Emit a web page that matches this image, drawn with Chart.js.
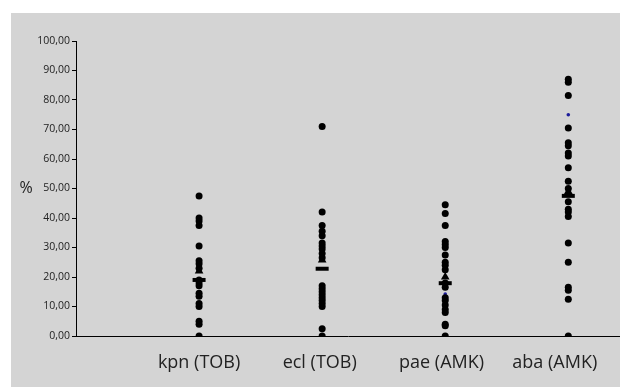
<!DOCTYPE html>
<html>
<head>
<meta charset="utf-8">
<script src="https://cdn.jsdelivr.net/npm/chart.js@4/dist/chart.umd.min.js"></script>
<style>
  html, body { margin: 0; padding: 0; background: #ffffff; }
  #wrap { position: absolute; left: 11px; top: 13px; width: 609px; height: 374px; background: #d4d4d4; }
  canvas { display: block; }
</style>
</head>
<body>
<div id="wrap"><canvas id="chart" width="609" height="374"></canvas></div>
<script>
// Categories (x positions 1..4)
const categories = ['kpn (TOB)', 'ecl (TOB)', 'pae (AMK)', 'aba (AMK)'];
// Where each category label sits on the x scale (slightly off the data columns)
const labelPositions = [1, 1.98, 2.97, 3.89];

// Individual isolate values (%)
const kpnValues = [47.5, 40, 39, 37.5, 30.5, 25.5, 24.5, 23, 19, 18, 17, 14.5, 13.5, 11, 10, 5, 4, 0];
const eclValues = [71, 42, 37.5, 35.5, 34, 31.5, 30.5, 29.5, 28, 26.5, 17, 16, 15, 14, 13, 12, 11, 10, 2.5, 0];
const paeValues = [44.5, 41.5, 37.5, 32, 31, 30, 27.5, 25, 24, 22.5, 18, 16.5, 13, 12, 10.5, 9, 8, 4, 3.5, 0];
const abaValues = [87, 86, 81.5, 70.5, 65.5, 64.5, 62, 61, 57, 52.5, 50, 45.5, 43, 42, 40.5, 31.5, 25, 16.5, 15.5, 12.5, 0];

// Summary markers
const barValues = [19, 22.8, 17.9, 47.5];      // horizontal bar
const triangleValues = [22, 25.8, 20, 49];     // triangle
const blueValues = [null, null, 14.2, 75];     // small blue marks

// Y axis ticks
const yMin = 0;
const yMax = 100;
const yStep = 10;

function toPoints(values, idx) {
    return values.map(v => ({ x: idx + 1, y: v }));
}

const dotPoints = [kpnValues, eclValues, paeValues, abaValues]
    .flatMap((vals, i) => toPoints(vals, i));

const barPoints = barValues.map((v, i) => ({ x: i + 1, y: v }));
const trianglePoints = triangleValues.map((v, i) => ({ x: i + 1, y: v }));
const bluePoints = blueValues
    .map((v, i) => (v === null ? null : { x: i + 1, y: v }))
    .filter(p => p !== null);

// Draws the "%" label beside the y axis
const percentLabel = {
    id: 'percentLabel',
    afterDraw(chart) {
        const ctx = chart.ctx;
        ctx.save();
        ctx.font = '16px "Open Sans"';
        ctx.fillStyle = '#222';
        ctx.textAlign = 'center';
        ctx.textBaseline = 'middle';
        ctx.fillText('%', 15, 175);
        ctx.restore();
    }
};

new Chart(document.getElementById('chart').getContext('2d'), {
    type: 'scatter',
    data: {
        datasets: [
            {
                label: 'values',
                data: dotPoints,
                pointStyle: 'circle',
                pointRadius: 3.5,
                backgroundColor: '#000',
                borderColor: '#000',
                borderWidth: 0
            },
            {
                label: 'triangle',
                data: trianglePoints,
                pointStyle: 'triangle',
                pointRadius: 5,
                backgroundColor: '#000',
                borderColor: '#000',
                borderWidth: 0
            },
            {
                label: 'bar',
                data: barPoints,
                pointStyle: 'line',
                pointRadius: 6.5,
                borderColor: '#000',
                borderWidth: 4
            },
            {
                label: 'blue',
                data: bluePoints,
                pointStyle: 'circle',
                pointRadius: 1.8,
                backgroundColor: '#1c1c9a',
                borderColor: '#1c1c9a',
                borderWidth: 0
            }
        ]
    },
    options: {
        responsive: false,
        animation: false,
        layout: {
            autoPadding: false,
            padding: { top: 28, right: 0, bottom: 0, left: 0 }
        },
        plugins: {
            legend: { display: false },
            tooltip: { enabled: false }
        },
        scales: {
            x: {
                type: 'linear',
                min: 0,
                max: 4.42,
                afterBuildTicks: function (scale) {
                    scale.ticks = labelPositions.map(p => ({ value: p }));
                },
                afterFit: function (scale) {
                    scale.height = 51;
                    scale.paddingLeft = 0;
                    scale.paddingRight = 0;
                },
                grid: { display: false, drawTicks: false },
                border: { display: true, color: '#000', width: 1 },
                ticks: {
                    padding: 16,
                    color: '#222',
                    font: { family: '"Open Sans"', size: 18 },
                    maxRotation: 0,
                    autoSkip: false,
                    callback: function (value, index) {
                        return categories[index] || '';
                    }
                }
            },
            y: {
                min: yMin,
                max: yMax,
                afterFit: function (scale) {
                    scale.width = 65;
                },
                grid: {
                    display: true,
                    drawOnChartArea: false,
                    drawTicks: true,
                    tickLength: 4,
                    color: '#000'
                },
                border: { display: true, color: '#000', width: 1 },
                ticks: {
                    stepSize: yStep,
                    padding: 2,
                    color: '#222',
                    font: { family: '"Open Sans"', size: 10.5 },
                    callback: function (value) {
                        return value.toFixed(2).replace('.', ',');
                    }
                }
            }
        }
    },
    plugins: [percentLabel]
});
</script>
</body>
</html>
